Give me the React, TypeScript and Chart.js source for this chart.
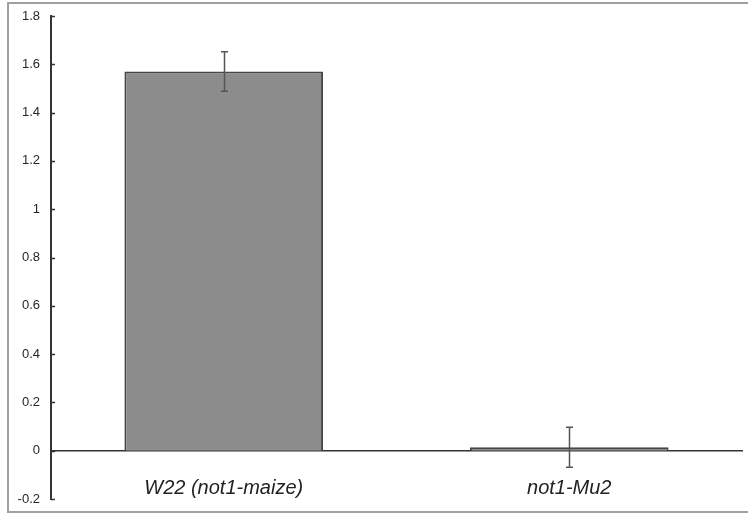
import React, { useEffect, useRef } from "react";
import { Chart, registerables } from "chart.js";

Chart.register(...registerables);

const categories = ["W22 (not1-maize)", "not1-Mu2"];
const values = [1.57, 0.014];
const errors = [0.082, 0.083];
const yTickValues = [-0.2, 0, 0.2, 0.4, 0.6, 0.8, 1, 1.2, 1.4, 1.6, 1.8];
const yTickLabels = ["-0.2", "0", "0.2", "0.4", "0.6", "0.8", "1", "1.2", "1.4", "1.6", "1.8"];

const framePlugin = {
  id: "frame",
  beforeDraw(chart: any) {
    const ctx = chart.ctx;
    ctx.save();
    ctx.fillStyle = "#ffffff";
    ctx.fillRect(0, 0, chart.width, chart.height);
    ctx.strokeStyle = "#a0a0a0";
    ctx.lineWidth = 2;
    ctx.beginPath();
    ctx.moveTo(chart.width + 5, 3);
    ctx.lineTo(8, 3);
    ctx.lineTo(8, 512);
    ctx.lineTo(chart.width + 5, 512);
    ctx.stroke();
    ctx.restore();
  },
};

const extrasPlugin = {
  id: "extras",
  afterDatasetsDraw(chart: any) {
    const ctx = chart.ctx;
    const y = chart.scales.y;
    const x = chart.scales.x;
    ctx.save();
    ctx.strokeStyle = "#333333";
    ctx.lineWidth = 1.5;
    y.ticks.forEach((t: any) => {
      const py = Math.round(y.getPixelForValue(t.value)) + 0.5;
      ctx.beginPath();
      ctx.moveTo(y.right, py);
      ctx.lineTo(y.right + 4, py);
      ctx.stroke();
    });
    ctx.strokeStyle = "#555555";
    ctx.lineWidth = 1.5;
    values.forEach((v, i) => {
      const px = Math.round(x.getPixelForValue(i)) + 0.5;
      const top = y.getPixelForValue(v + errors[i]);
      const bot = y.getPixelForValue(v - errors[i]);
      ctx.beginPath();
      ctx.moveTo(px, top);
      ctx.lineTo(px, bot);
      ctx.moveTo(px - 3.5, top);
      ctx.lineTo(px + 3.5, top);
      ctx.moveTo(px - 3.5, bot);
      ctx.lineTo(px + 3.5, bot);
      ctx.stroke();
    });
    ctx.restore();
  },
};

export default function App() {
  const ref = useRef<HTMLCanvasElement | null>(null);
  useEffect(() => {
    if (!ref.current) return;
    const chart = new Chart(ref.current, {
      type: "bar",
      data: {
        labels: categories,
        datasets: [
          {
            data: values,
            backgroundColor: "#8c8c8c",
            borderColor: "#454545",
            borderWidth: 2,
            categoryPercentage: 1,
            barPercentage: 0.575,
          },
        ],
      },
      options: {
        responsive: false,
        animation: false,
        devicePixelRatio: 1,
        layout: { padding: { top: 16, right: 6, bottom: 15, left: 0 } },
        plugins: { legend: { display: false }, tooltip: { enabled: false } },
        scales: {
          x: {
            position: { y: 0 } as any,
            grid: { display: false, drawTicks: false },
            border: { display: true, color: "#333333", width: 1.5 },
            ticks: {
              padding: 26,
              color: "#222222",
              font: { family: "Liberation Sans, Arial, sans-serif", size: 20, style: "italic" },
            },
          },
          y: {
            min: -0.2,
            max: 1.8,
            grid: { display: false, drawTicks: false },
            border: { display: true, color: "#333333", width: 2 },
            afterFit(scale: any) {
              scale.width = 51;
              scale.paddingTop = 0;
              scale.paddingBottom = 0;
            },
            afterBuildTicks(scale: any) {
              scale.ticks = yTickValues.map((v) => ({ value: v }));
            },
            ticks: {
              padding: 11,
              color: "#262626",
              font: { family: "Liberation Sans, Arial, sans-serif", size: 13 },
              callback: (val: any) => {
                const idx = yTickValues.findIndex((t) => Math.abs(t - Number(val)) < 1e-9);
                return idx >= 0 ? yTickLabels[idx] : "";
              },
            },
          },
        },
      },
      plugins: [framePlugin, extrasPlugin],
    });
    return () => chart.destroy();
  }, []);
  return (
    <div style={{ position: "absolute", left: 0, top: 0, width: 748, height: 514 }}>
      <canvas ref={ref} width={748} height={514} />
    </div>
  );
}
